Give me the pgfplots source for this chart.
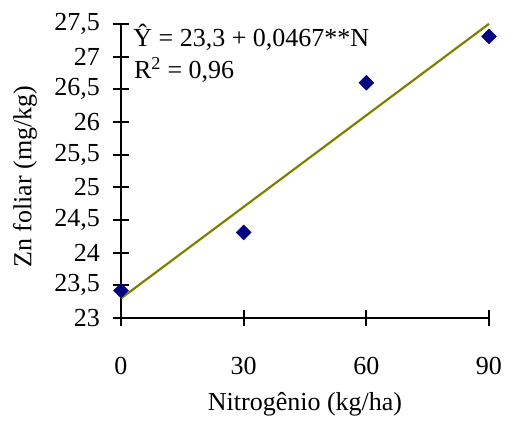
\documentclass[border=0pt]{standalone}
\usepackage{fontspec}
\setmainfont{Liberation Serif}
\usepackage{pgfplots}
\pgfplotsset{compat=1.18}
\definecolor{navyblue}{RGB}{0,0,128}
\definecolor{olivel}{RGB}{128,128,0}
\begin{document}
\begin{tikzpicture}[font=\fontsize{26bp}{31bp}\selectfont]
\path[use as bounding box] (-121bp,-106bp) rectangle (392bp,318bp);
\begin{axis}[
  at={(0,0)}, anchor=south west,
  scale only axis,
  width=368bp, height=294bp,
  xmin=0, xmax=90, ymin=23, ymax=27.5,
  axis lines=left,
  axis line style={-, line width=2bp, black},
  xtick={0,30,60,90},
  ytick={23,23.5,24,24.5,25,25.5,26,26.5,27,27.5},
  tick align=center,
  major tick length=16bp,
  tick style={line width=2bp, black},
  /pgf/number format/assume math mode=true,
  /pgf/number format/use comma,
  /pgf/number format/1000 sep={},
  xticklabel style={anchor=center, yshift=-39.5bp, inner sep=0pt},
  yticklabel style={anchor=east, inner sep=0pt, xshift=-13bp},
  xlabel={Nitrogênio (kg/ha)},
  ylabel={Zn foliar (mg/kg)},
  xlabel style={at={(axis description cs:0.5,-0.293)}, anchor=center, inner sep=0pt},
  ylabel style={at={(axis description cs:-0.261,0.48)}, anchor=center, rotate=0, inner sep=0pt},
  clip=false,
]
\addplot[olivel, line width=2.2bp, no marks] coordinates {(0,23.3) (90,27.503)};
\addplot[only marks, mark=square*, mark size=5.3bp, mark options={rotate=45, fill=navyblue, draw=navyblue}]
  coordinates {(0,23.42) (30,24.31) (60,26.6) (90,27.31)};
\node[anchor=base west, inner sep=0pt] at (rel axis cs:0.033,0.922) {Ŷ = 23,3 + 0,0467**N};
\node[anchor=base west, inner sep=0pt] at (rel axis cs:0.035,0.816) {R\textsuperscript{2} = 0,96};
\end{axis}
\end{tikzpicture}
\end{document}
